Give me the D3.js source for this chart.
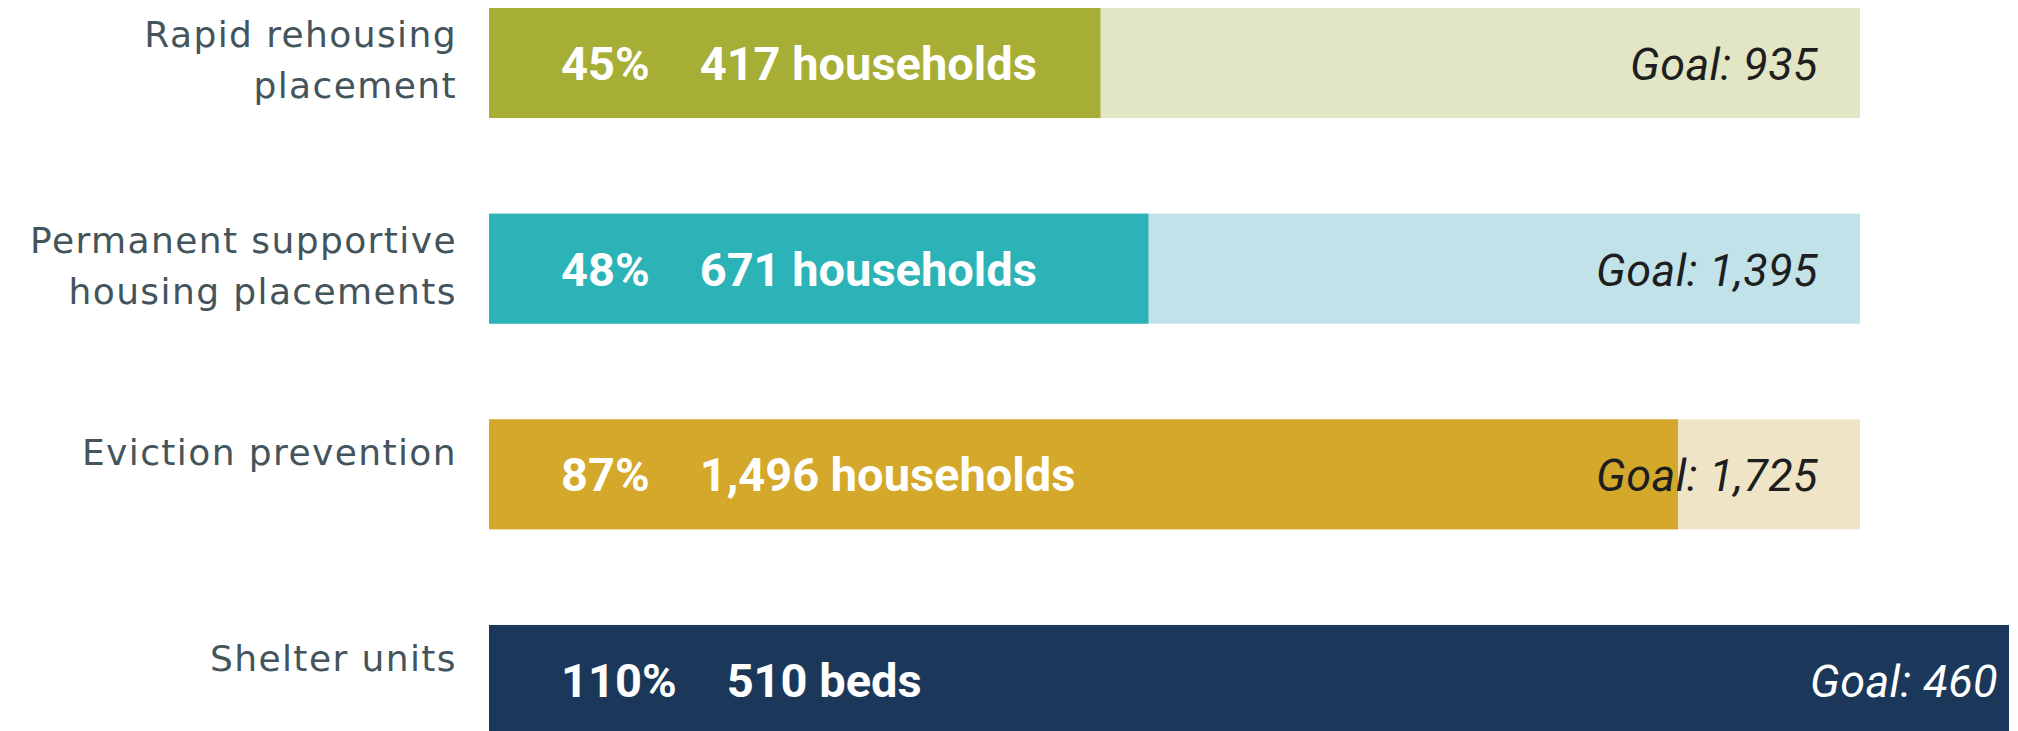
<!DOCTYPE html>
<html>
<head>
<meta charset="utf-8">
<script src="https://cdn.jsdelivr.net/npm/d3@7"></script>
<style>
  html, body { margin: 0; padding: 0; background: #fff; }
  .label { font-family: "DejaVu Sans", sans-serif; font-size: 36px; fill: #44545c; letter-spacing: 1.4px; }
  .value { font-family: Roboto, sans-serif; font-weight: 700; font-size: 47px; fill: #fff; }
  .goal { font-family: Roboto, sans-serif; font-style: italic; font-weight: 400; font-size: 45px; letter-spacing: 0.4px; }
</style>
</head>
<body>
<div id="chart"></div>
<script>
/* Progress toward goals, one bar per program. */

var programs = ["Rapid rehousing placement", "Permanent supportive housing placements", "Eviction prevention", "Shelter units"];
var labelLines = [["Rapid rehousing", "placement"], ["Permanent supportive", "housing placements"], ["Eviction prevention"], ["Shelter units"]];
var actuals = [417, 671, 1496, 510];
var goals = [935, 1395, 1725, 460];
var percentLabels = ["45%", "48%", "87%", "110%"];
var units = ["households", "households", "households", "beds"];
var doneColors = ["#a6ae35", "#2bb3b7", "#d4a82a", "#1b385a"];
var goalColors = ["#e2e6c4", "#c1e2e8", "#efe5c6", "#c9d3de"];

(function () {
  var width = 2018, height = 731;
  var left = 489, right = 1860;
  var fmt = d3.format(",");

  var svg = d3.select("#chart").append("svg")
    .attr("width", width).attr("height", height)
    .attr("viewBox", "0 0 " + width + " " + height);

  var y = d3.scaleBand().domain(programs).range([8, 735]).paddingInner(0.465).paddingOuter(0);
  var x = d3.scaleLinear().domain([0, 1]).range([left, right]);
  var bh = y.bandwidth();

  programs.forEach(function (p, i) {
    var top = y(p);
    var ratio = actuals[i] / goals[i];
    var g = svg.append("g");

    g.append("rect")
      .attr("x", x(0)).attr("y", top)
      .attr("width", x(1) - x(0)).attr("height", bh)
      .attr("fill", goalColors[i]);
    g.append("rect")
      .attr("x", x(0)).attr("y", top)
      .attr("width", x(ratio) - x(0)).attr("height", bh)
      .attr("fill", doneColors[i]);

    /* category label, right aligned left of the bar */
    var lines = labelLines[i];
    var firstBase = top + (lines.length > 1 ? 39 : 46);
    var t = g.append("text").attr("class", "label").attr("text-anchor", "end");
    lines.forEach(function (ln, k) {
      t.append("tspan").attr("x", left - 32).attr("y", firstBase + k * 51).text(ln);
    });

    /* percent + count */
    var v = g.append("text").attr("class", "value").attr("y", top + 72);
    v.append("tspan").attr("x", left + 72).text(percentLabels[i]);
    v.append("tspan").attr("dx", 50).text(fmt(actuals[i]) + " " + units[i]);

    /* goal */
    var over = ratio > 1;
    g.append("text").attr("class", "goal")
      .attr("text-anchor", "end")
      .attr("x", over ? width - 20 : x(1) - 42)
      .attr("y", top + 72)
      .attr("fill", over ? "#fff" : "#1e1e1e")
      .text("Goal: " + fmt(goals[i]));
  });
})();
</script>
</body>
</html>
